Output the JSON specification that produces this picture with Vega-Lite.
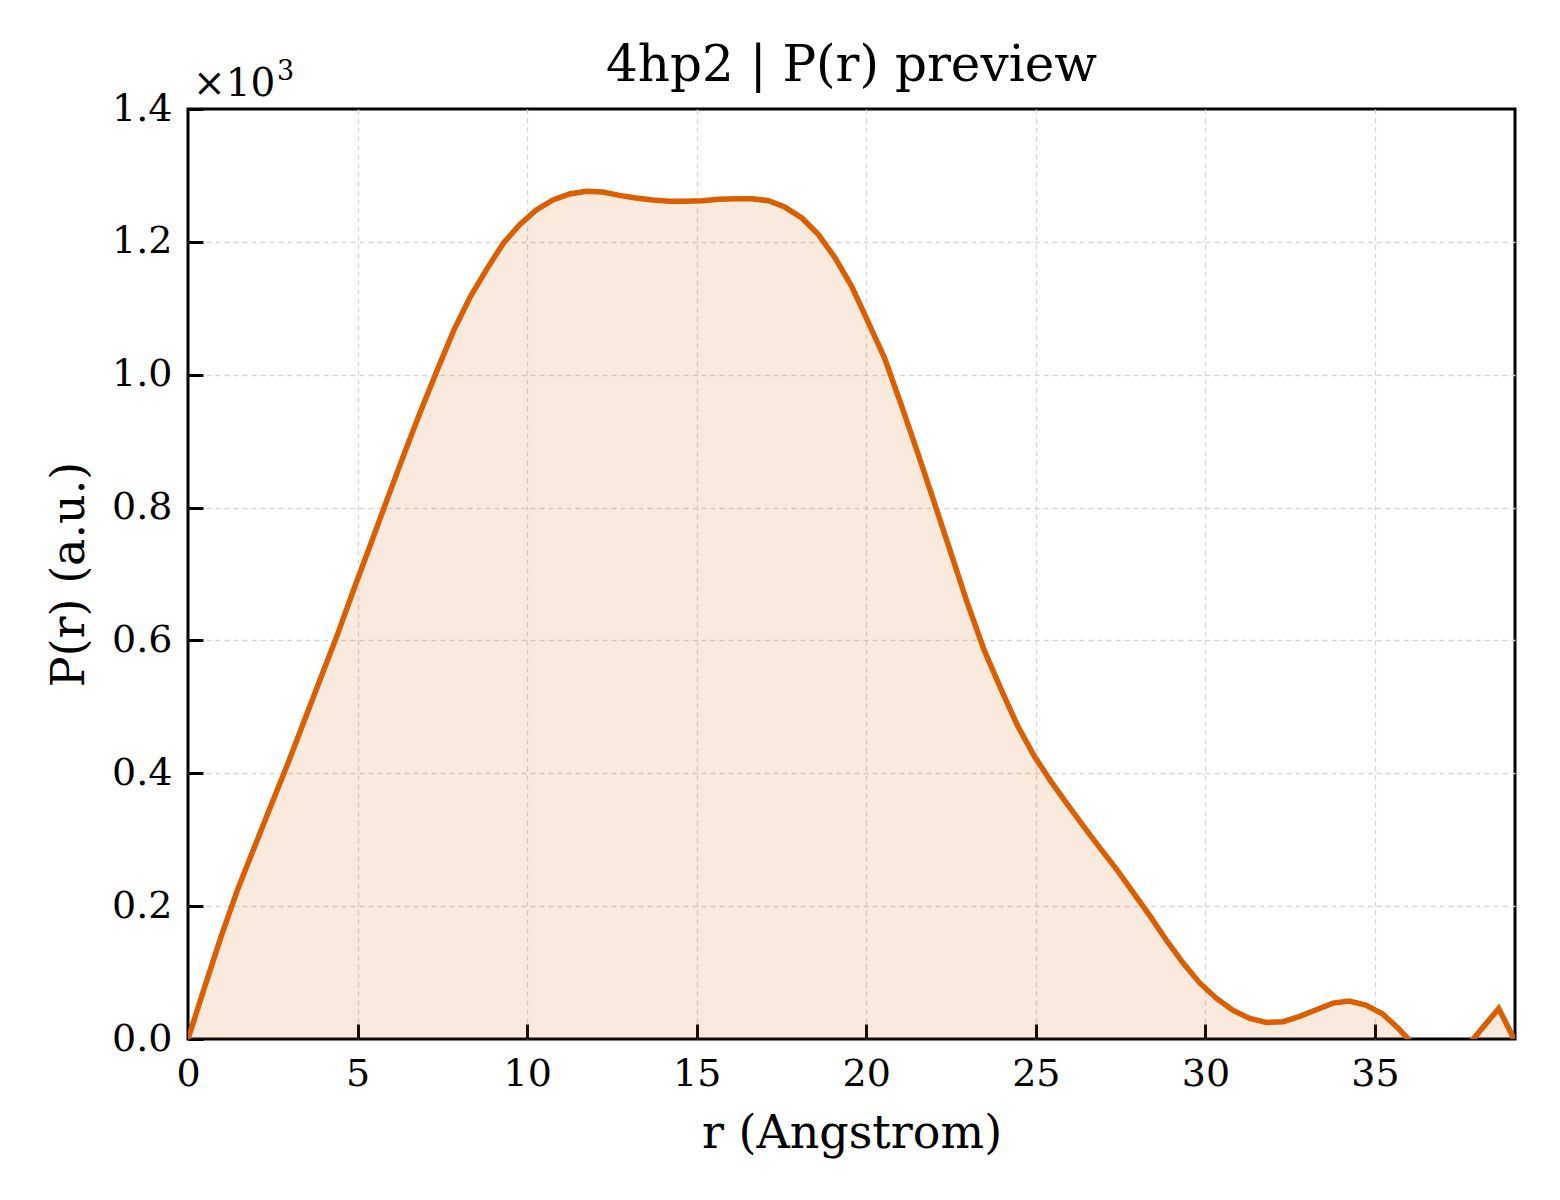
{
  "$schema": "https://vega.github.io/schema/vega-lite/v6.json",
  "autosize": {"type": "none"},
  "padding": {"left": 188, "top": 109, "right": 45, "bottom": 161},
  "width": 1327,
  "height": 930,
  "background": "white",
  "title": {
    "text": "4hp2 | P(r) preview",
    "font": "DejaVu Serif",
    "fontSize": 50,
    "fontWeight": "normal",
    "color": "black",
    "anchor": "middle",
    "offset": -33
  },
  "data": {
    "values": [
      {"r": 0.00, "P": 0},
      {"r": 0.49, "P": 78},
      {"r": 0.98, "P": 155},
      {"r": 1.47, "P": 226},
      {"r": 1.96, "P": 289},
      {"r": 2.45, "P": 352},
      {"r": 2.94, "P": 414},
      {"r": 3.42, "P": 478},
      {"r": 3.91, "P": 543},
      {"r": 4.40, "P": 608},
      {"r": 4.89, "P": 677},
      {"r": 5.38, "P": 744},
      {"r": 5.87, "P": 812},
      {"r": 6.36, "P": 879},
      {"r": 6.85, "P": 944},
      {"r": 7.34, "P": 1006},
      {"r": 7.83, "P": 1066},
      {"r": 8.32, "P": 1117},
      {"r": 8.81, "P": 1159},
      {"r": 9.30, "P": 1198},
      {"r": 9.78, "P": 1226},
      {"r": 10.27, "P": 1248},
      {"r": 10.76, "P": 1263},
      {"r": 11.25, "P": 1272},
      {"r": 11.74, "P": 1276},
      {"r": 12.23, "P": 1275},
      {"r": 12.72, "P": 1270},
      {"r": 13.21, "P": 1266},
      {"r": 13.70, "P": 1263},
      {"r": 14.19, "P": 1261},
      {"r": 14.67, "P": 1261},
      {"r": 15.16, "P": 1262},
      {"r": 15.65, "P": 1264},
      {"r": 16.14, "P": 1265},
      {"r": 16.63, "P": 1265},
      {"r": 17.12, "P": 1262},
      {"r": 17.61, "P": 1252},
      {"r": 18.10, "P": 1236},
      {"r": 18.59, "P": 1211},
      {"r": 19.08, "P": 1176},
      {"r": 19.57, "P": 1133},
      {"r": 20.05, "P": 1080},
      {"r": 20.54, "P": 1025},
      {"r": 21.03, "P": 955},
      {"r": 21.52, "P": 882},
      {"r": 22.01, "P": 807},
      {"r": 22.50, "P": 731},
      {"r": 22.99, "P": 655},
      {"r": 23.48, "P": 585},
      {"r": 23.97, "P": 527},
      {"r": 24.46, "P": 472},
      {"r": 24.94, "P": 427},
      {"r": 25.43, "P": 389},
      {"r": 25.92, "P": 354},
      {"r": 26.41, "P": 320},
      {"r": 26.90, "P": 287},
      {"r": 27.39, "P": 255},
      {"r": 27.88, "P": 220},
      {"r": 28.37, "P": 185},
      {"r": 28.86, "P": 148},
      {"r": 29.35, "P": 114},
      {"r": 29.84, "P": 84},
      {"r": 30.33, "P": 61},
      {"r": 30.82, "P": 43},
      {"r": 31.31, "P": 31},
      {"r": 31.80, "P": 25},
      {"r": 32.29, "P": 26},
      {"r": 32.78, "P": 34},
      {"r": 33.27, "P": 44},
      {"r": 33.76, "P": 54},
      {"r": 34.24, "P": 57},
      {"r": 34.73, "P": 51},
      {"r": 35.22, "P": 38},
      {"r": 35.71, "P": 15},
      {"r": 36.20, "P": -12},
      {"r": 36.69, "P": -32},
      {"r": 37.18, "P": -38},
      {"r": 37.67, "P": -14},
      {"r": 38.16, "P": 16},
      {"r": 38.65, "P": 46},
      {"r": 39.13, "P": -3}
    ]
  },
  "layer": [
    {
      "mark": {"type": "area", "color": "#d95f02", "opacity": 0.13, "clip": true},
      "encoding": {
        "x": {
          "field": "r",
          "type": "quantitative",
          "title": "r (Angstrom)",
          "scale": {"domain": [0, 39.13], "nice": false, "zero": false},
          "axis": {
            "values": [0, 5, 10, 15, 20, 25, 30, 35],
            "format": "d",
            "offset": -15,
            "labelPadding": 16,
            "titlePadding": 18,
            "labelFlush": false,
            "gridOpacity": {"condition": {"test": "datum.value == 0", "value": 0}, "value": 1}
          }
        },
        "y": {
          "field": "P",
          "type": "quantitative",
          "title": "P(r) (a.u.)",
          "scale": {"domain": [0, 1400], "nice": false},
          "axis": {
            "values": [0, 200, 400, 600, 800, 1000, 1200, 1400],
            "labelExpr": "format(datum.value / 1000, '.1f')",
            "offset": -15,
            "labelPadding": 16,
            "titlePadding": 18,
            "labelFlush": false,
            "gridOpacity": {"condition": {"test": "datum.value == 0 || datum.value == 1400", "value": 0}, "value": 1}
          }
        }
      }
    },
    {
      "mark": {"type": "line", "color": "#d95f02", "strokeWidth": 5.5, "clip": true},
      "encoding": {
        "x": {"field": "r", "type": "quantitative"},
        "y": {"field": "P", "type": "quantitative"}
      }
    },
    {
      "data": {"values": [{"label": "×10", "sup": "3"}]},
      "encoding": {
        "x": {"datum": 0, "type": "quantitative"},
        "y": {"datum": 1400, "type": "quantitative"}
      },
      "layer": [
        {
          "mark": {
            "type": "text",
            "font": "DejaVu Serif",
            "fontSize": 39,
            "align": "left",
            "baseline": "alphabetic",
            "dx": 5,
            "dy": -13,
            "color": "black"
          },
          "encoding": {"text": {"field": "label", "type": "nominal"}}
        },
        {
          "mark": {
            "type": "text",
            "font": "DejaVu Serif",
            "fontSize": 27,
            "align": "left",
            "baseline": "alphabetic",
            "dx": 89,
            "dy": -29,
            "color": "black"
          },
          "encoding": {"text": {"field": "sup", "type": "nominal"}}
        }
      ]
    }
  ],
  "config": {
    "view": {"stroke": "black", "strokeWidth": 3},
    "axis": {
      "domain": false,
      "labelFont": "DejaVu Serif",
      "labelFontSize": 38,
      "labelColor": "black",
      "titleFont": "DejaVu Serif",
      "titleFontSize": 46,
      "titleFontWeight": "normal",
      "titleColor": "black",
      "tickColor": "black",
      "tickWidth": 3,
      "tickSize": 15,
      "grid": true,
      "gridColor": "#d6d6d6",
      "gridDash": [5, 4],
      "gridWidth": 1.3
    }
  }
}
